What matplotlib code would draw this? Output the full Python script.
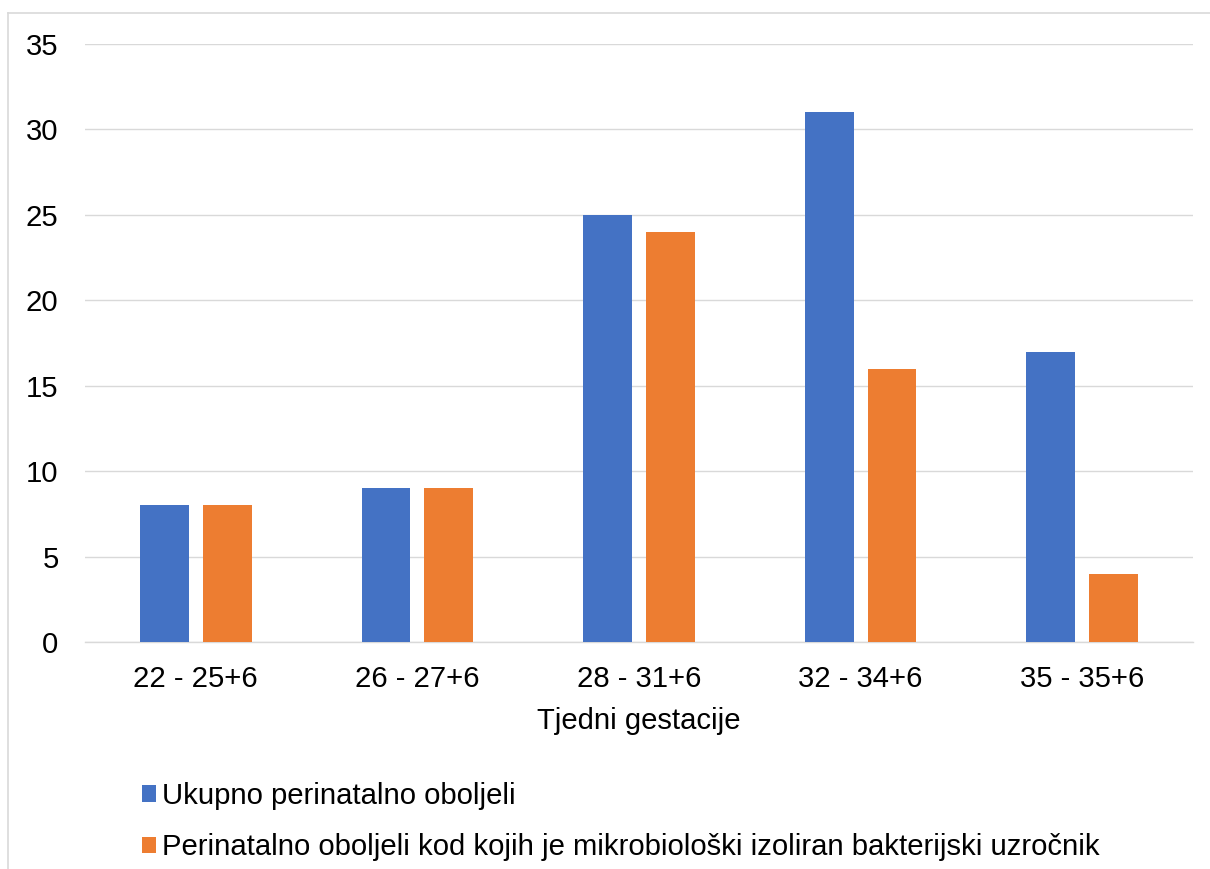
import matplotlib
matplotlib.use("Agg")
import matplotlib.pyplot as plt
from matplotlib.patches import Patch
from matplotlib.lines import Line2D
import numpy as np

plt.rcParams['font.family'] = ['Liberation Sans', 'DejaVu Sans']

categories = ["22 - 25+6", "26 - 27+6", "28 - 31+6", "32 - 34+6", "35 - 35+6"]
ukupno = [8, 9, 25, 31, 17]
bakterijski = [8, 9, 24, 16, 4]
series_names = ["Ukupno perinatalno oboljeli",
                "Perinatalno oboljeli kod kojih je mikrobiološki izoliran bakterijski uzročnik"]
colors = ["#4472C4", "#ED7D31"]

fs = 21.1
fig = plt.figure(figsize=(12.1, 8.69), dpi=100)
ax = fig.add_axes([85 / 1210, 1 - 642 / 869, (1193 - 85) / 1210, (642 - 44) / 869])

x = np.arange(len(categories))
w = 0.22
off = 0.142
ax.bar(x - off, ukupno, width=w, color=colors[0], zorder=3)
ax.bar(x + off, bakterijski, width=w, color=colors[1], zorder=3)

ax.set_xlim(-0.5, len(categories) - 0.5)
ax.set_ylim(0, 35)
ax.set_yticks(range(0, 36, 5))
ax.set_xticks(x)
ax.set_xticklabels(categories)
ax.grid(axis='y', color='#D9D9D9', linewidth=1.0, zorder=0)
for s in ['top', 'right', 'left']:
    ax.spines[s].set_visible(False)
ax.spines['bottom'].set_color('#D9D9D9')
ax.spines['bottom'].set_linewidth(1.0)
ax.tick_params(axis='both', length=0, labelsize=fs)
ax.tick_params(axis='y', pad=19)
ax.tick_params(axis='x', pad=16.5)
ax.set_xlabel("Tjedni gestacije", fontsize=fs, labelpad=10)

handles = [Patch(facecolor=c, edgecolor='none') for c in colors]
fig.legend(handles, series_names, loc='upper left', bbox_to_anchor=(142 / 1210, 1 - 782 / 869),
           frameon=False, fontsize=fs, handlelength=0.48, handleheight=0.48,
           handletextpad=0.2, labelspacing=0.8, borderpad=0, borderaxespad=0)

# chart area border
fig.add_artist(Line2D([8 / 1210, 8 / 1210], [0, 1 - 13 / 869], color='#D9D9D9', linewidth=1.2))
fig.add_artist(Line2D([8 / 1210, 1], [1 - 13 / 869, 1 - 13 / 869], color='#D9D9D9', linewidth=1.2))

fig.savefig("out.png", dpi=100)
